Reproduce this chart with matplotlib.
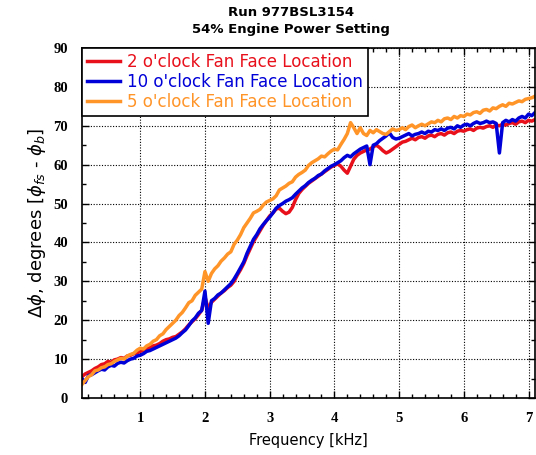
import matplotlib.pyplot as plt
import numpy as np
from matplotlib.ticker import MultipleLocator

# frequency grid [kHz], 0.05 step
freq = np.round(np.arange(0.10, 7.101, 0.05), 2)

red_2oclock = [
    5.5, 6.2, 6.6, 7.0, 7.6, 8.0, 8.6, 8.8, 9.4, 9.2,
    9.8, 10.0, 10.4, 10.2, 10.8, 11.0, 11.4, 11.6, 12.0, 12.2,
    12.6, 13.0, 13.4, 13.6, 14.0, 14.6, 15.0, 15.2, 15.6, 15.8,
    16.4, 17.0, 17.8, 18.8, 19.6, 20.4, 21.4, 22.6, 26.0, 23.0,
    24.6, 25.4, 26.2, 27.0, 27.6, 28.4, 29.0, 30.0, 31.6, 33.0,
    34.6, 36.6, 38.4, 40.2, 41.6, 43.0, 44.4, 45.6, 46.8, 47.6,
    48.6, 48.8, 48.0, 47.4, 47.8, 49.0, 51.0, 52.6, 53.6, 54.4,
    55.2, 55.8, 56.4, 57.0, 57.6, 58.2, 58.8, 59.4, 59.8, 60.2,
    59.6, 58.6, 57.8, 59.6, 61.4, 62.4, 63.0, 63.4, 63.8, 64.0,
    64.6, 65.0, 64.4, 63.6, 63.0, 63.4, 64.0, 64.6, 65.2, 65.8,
    66.0, 66.4, 66.8, 66.4, 67.0, 67.2, 66.8, 67.4, 67.6, 67.2,
    67.8, 68.0, 67.6, 68.2, 68.4, 68.0, 68.6, 68.8, 68.6, 69.0,
    69.2, 68.8, 69.4, 69.6, 69.4, 69.8, 70.0, 69.6, 70.2, 70.0,
    70.4, 70.2, 70.6, 70.8, 70.4, 71.0, 71.2, 70.8, 71.4, 71.2,
    71.6]

blue_10oclock = [
    5.0, 4.0, 5.8, 6.0, 6.5, 7.0, 7.4, 7.2, 8.0, 8.4,
    8.2, 8.9, 9.2, 9.0, 9.6, 10.0, 10.2, 10.8, 11.0, 11.4,
    12.0, 12.2, 12.6, 13.0, 13.4, 13.8, 14.2, 14.6, 15.0, 15.4,
    16.0, 16.8, 17.5, 18.6, 19.8, 20.6, 21.8, 22.5, 27.5, 19.2,
    25.0, 25.6, 26.5, 27.0, 27.8, 28.6, 29.4, 30.6, 32.0, 33.5,
    35.0, 37.2, 39.0, 40.8, 42.0, 43.5, 44.6, 45.6, 46.5, 47.6,
    48.8, 49.5, 50.0, 50.6, 51.0, 51.5, 52.4, 53.2, 54.0, 54.6,
    55.4, 56.0, 56.5, 57.2, 57.6, 58.4, 59.0, 59.6, 60.0, 60.5,
    61.0, 61.8, 62.4, 62.0, 62.8, 63.4, 64.0, 64.4, 64.8, 60.0,
    65.0, 65.4, 66.2, 66.8, 67.4, 68.2, 67.0, 66.6, 66.8, 67.2,
    67.6, 68.0, 67.4, 67.8, 68.0, 68.4, 68.0, 68.6, 68.4, 69.0,
    68.8, 69.2, 68.8, 69.4, 69.6, 69.2, 70.0, 69.6, 70.2, 70.4,
    70.0, 70.6, 71.0, 70.6, 70.8, 71.2, 70.8, 71.0, 70.6, 63.0,
    70.8, 71.4, 71.0, 71.6, 71.2, 72.0, 72.4, 72.0, 73.0, 72.6,
    73.4]

orange_5oclock = [
    3.5, 4.5, 5.5, 6.0, 7.0, 7.2, 7.8, 8.0, 8.6, 8.8,
    9.4, 9.8, 10.2, 10.0, 10.8, 11.2, 11.5, 12.3, 12.8, 12.6,
    13.4, 13.8, 14.6, 15.0, 16.0, 16.5, 17.6, 18.4, 19.2, 20.0,
    21.2, 22.0, 23.2, 24.5, 25.0, 26.4, 27.2, 28.0, 32.5, 30.0,
    32.0, 33.2, 34.0, 35.2, 36.0, 37.0, 37.6, 39.5, 40.6, 42.0,
    43.8, 45.0, 46.2, 47.6, 48.0, 48.5, 49.6, 50.4, 50.8, 51.2,
    52.0, 53.5, 54.0, 54.5, 55.2, 55.6, 56.8, 57.5, 58.0, 58.6,
    59.8, 60.5, 61.0, 61.5, 62.2, 62.0, 62.8, 63.5, 64.0, 63.8,
    65.2, 66.5, 68.0, 70.8, 69.5, 68.0, 69.5, 68.0, 67.5, 68.8,
    68.2, 69.0, 68.5, 68.0, 67.8, 68.5, 69.2, 68.8, 69.0, 69.5,
    69.0, 69.8, 70.2, 69.5, 70.0, 70.4, 70.0, 70.5, 71.0, 70.8,
    71.4, 71.0, 71.8, 72.0, 71.6, 72.4, 72.0, 72.6, 72.4, 73.0,
    72.8, 73.4, 73.6, 73.2, 74.0, 74.2, 73.8, 74.6, 74.4, 75.0,
    75.4, 75.0, 75.8, 75.6, 76.0, 76.4, 76.2, 76.8, 77.0, 77.2,
    77.6]

labels = ["2 o'clock Fan Face Location", "10 o'clock Fan Face Location",
          "5 o'clock Fan Face Location"]
colors = ['#e8101a', '#0000d8', '#ff9428']

fig = plt.figure(figsize=(5.36, 4.55), dpi=100)
ax = fig.add_axes([82/536, 1 - 398/455, 453/536, 350/455])

for y, lab, c in zip([red_2oclock, blue_10oclock, orange_5oclock], labels, colors):
    ax.plot(freq, y, color=c, lw=2.5, label=lab)

ax.set_xlim(0.1, 7.1)
ax.set_ylim(0, 90)
ax.xaxis.set_major_locator(MultipleLocator(1))
ax.xaxis.set_minor_locator(MultipleLocator(0.2))
ax.yaxis.set_major_locator(MultipleLocator(10))
ax.yaxis.set_minor_locator(MultipleLocator(5))
ax.tick_params(which='both', direction='in', top=True, right=True, width=1)
ax.tick_params(which='major', length=5)
ax.tick_params(which='minor', length=3)
ax.grid(True, which='major', color='black', linestyle=(0, (1, 1.5)), lw=0.8)
for s in ax.spines.values():
    s.set_linewidth(1.2)

for lbl in ax.get_xticklabels() + ax.get_yticklabels():
    lbl.set_fontfamily('Liberation Serif')
    lbl.set_fontweight('bold')
    lbl.set_fontsize(10.5)
ax.tick_params(axis='x', pad=10)
ax.tick_params(axis='y', pad=10)

ax.set_xlabel('Frequency [kHz]', fontsize=10.5, labelpad=6)
ax.set_ylabel(r'$\Delta\phi$, degrees [$\phi_{fs}$ - $\phi_b$]', fontsize=13, labelpad=4)

leg = ax.legend(loc='upper left', borderaxespad=0, fancybox=False, framealpha=1,
                edgecolor='black', fontsize=12, handlelength=2.0, handletextpad=0.4,
                labelspacing=0.12, borderpad=0.3)
leg.get_frame().set_linewidth(1.2)
for t, c in zip(leg.get_texts(), colors):
    t.set_color(c)

fig.text(291/536, 1 - 13/455, 'Run 977BSL3154', ha='center', va='center',
         fontsize=9.5, fontweight='bold')
fig.text(291/536, 1 - 30/455, '54% Engine Power Setting', ha='center', va='center',
         fontsize=9.5, fontweight='bold')

fig.savefig('out.png', dpi=100)
